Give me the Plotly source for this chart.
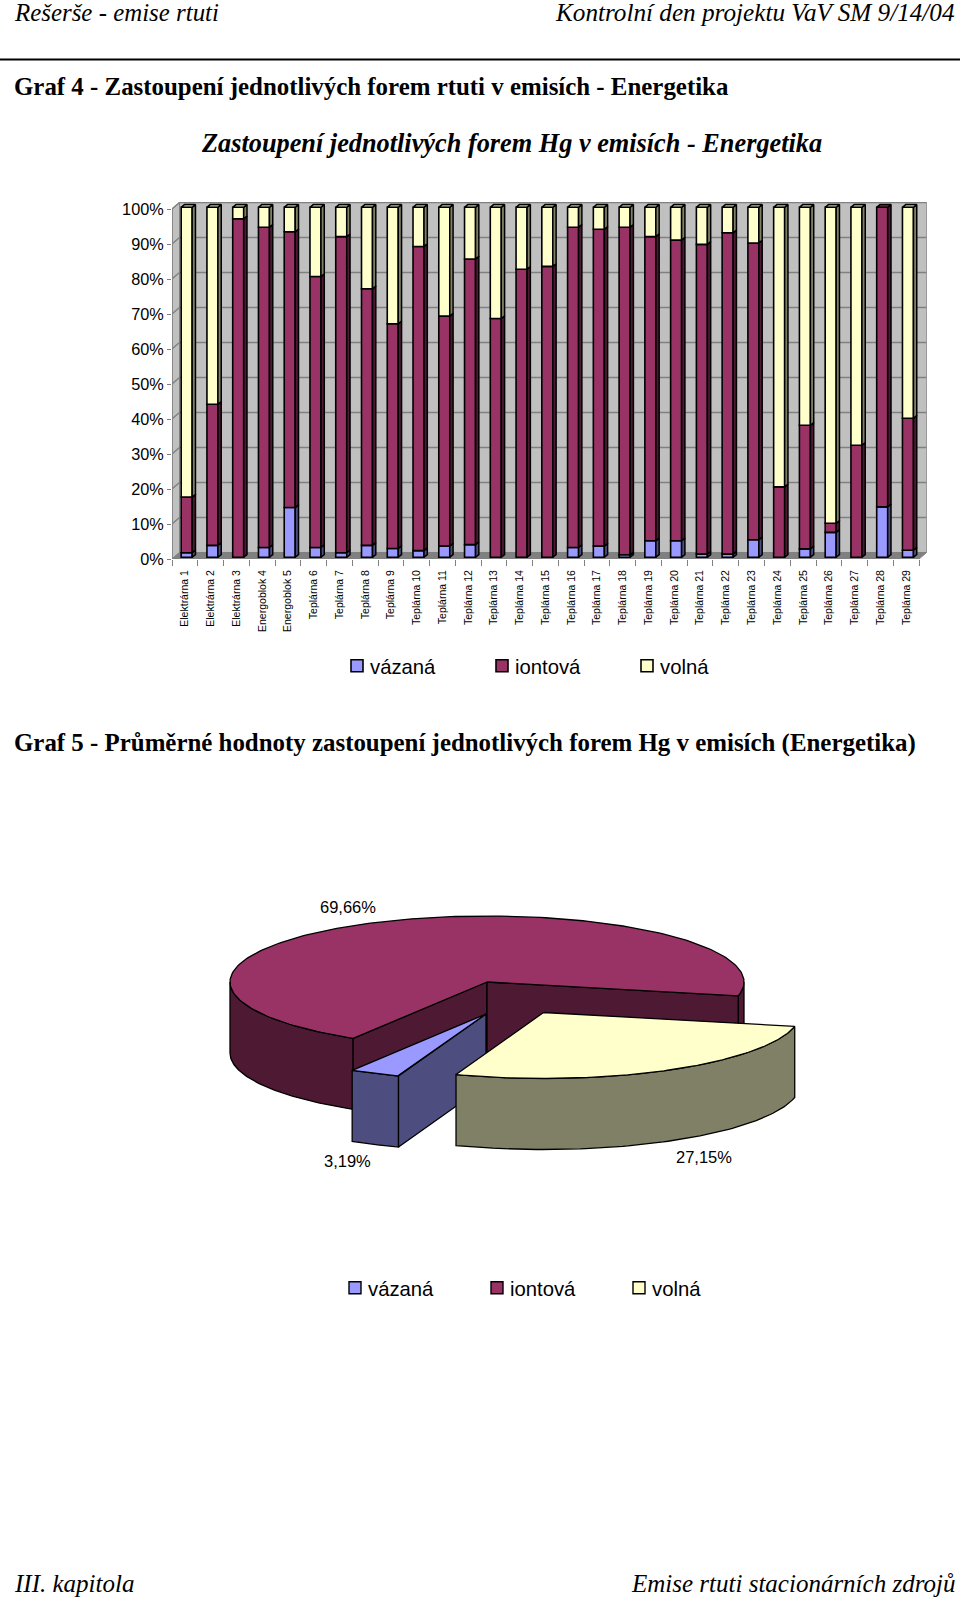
import math
import plotly.graph_objects as go

categories = ["Elektrárna 1", "Elektrárna 2", "Elektrárna 3", "Energoblok 4", "Energoblok 5"] + [
    f"Teplárna {i}" for i in range(6, 30)]
vazana = [1.3, 3.4, 0, 2.8, 14.2, 2.8, 1.3, 3.4, 2.5, 1.9, 3.2, 3.6, 0, 0, 0,
          2.8, 3.2, 0.7, 4.7, 4.7, 0.9, 0.9, 5.0, 0, 2.4, 7.1, 0, 14.4, 2.0]
iontova = [15.9, 40.3, 96.7, 91.5, 78.8, 77.4, 90.3, 73.3, 64.2, 86.9, 65.7, 81.6, 68.2, 82.3, 83.1,
           91.5, 90.5, 93.6, 86.9, 85.9, 88.5, 91.8, 84.8, 20.1, 35.3, 2.6, 32.0, 85.6, 37.7]
volna = [82.8, 56.3, 3.3, 5.7, 7.0, 19.8, 8.4, 23.3, 33.3, 11.2, 31.1, 14.8, 31.8, 17.7, 16.9,
         5.7, 6.3, 5.7, 8.4, 9.4, 10.6, 7.3, 10.2, 79.9, 62.3, 90.3, 68.0, 0, 60.3]
y_ticks = list(range(0, 101, 10))
series_names = ["vázaná", "iontová", "volná"]
pie_values = [3.19, 69.66, 27.15]
pie_labels = ["3,19%", "69,66%", "27,15%"]

C_FRONT = ["#9999FF", "#993366", "#FFFFCC"]
C_SIDE = ["#4D4D80", "#4D1933", "#808066"]
C_TOP = ["#7070C0", "#70254A", "#BFBF99"]

W, H = 960, 1597
PX_X = 25.76
PX_Y = 3.5
PLOT_L, PLOT_B = 172, 559
X0, X1, Y1 = -0.5, 28.8, 102
px = lambda v: v / W
py = lambda v: 1 - v / H

BAR_W = 11 / PX_X
BAR_SHIFT = 0.07
LIFT = 0.5
DX_B, DY_B = 3.3 / PX_X, 0.77
DX_W, DY_W = 7.5 / PX_X, 1.86

fig = go.Figure()

positions = list(range(len(categories)))
bases = [[], [], []]
for i in positions:
    acc = LIFT
    for s, arr in enumerate([vazana, iontova, volna]):
        bases[s].append(acc)
        acc += arr[i]

for s, arr in enumerate([vazana, iontova, volna]):
    fig.add_trace(go.Bar(
        x=positions, y=arr, base=bases[s], name=series_names[s], width=BAR_W,
        offset=BAR_SHIFT - BAR_W / 2, marker=dict(color=C_FRONT[s], line=dict(color="black", width=1.6)),
        legend="legend", xaxis="x", yaxis="y", hoverinfo="skip"))

for s, arr in enumerate([vazana, iontova, volna]):
    sx, sy, tx, ty = [], [], [], []
    for i in positions:
        if arr[i] <= 0:
            continue
        xl = i + BAR_SHIFT - BAR_W / 2
        xr = xl + BAR_W
        y0, y1 = bases[s][i], bases[s][i] + arr[i]
        sx += [xr, xr + DX_B, xr + DX_B, xr, xr, None]
        sy += [y0, y0 + DY_B, y1 + DY_B, y1, y0, None]
        is_top = all(o[i] <= 0 for o in [vazana, iontova, volna][s + 1:])
        if is_top:
            tx += [xl, xr, xr + DX_B, xl + DX_B, xl, None]
            ty += [y1, y1, y1 + DY_B, y1 + DY_B, y1, None]
    for xs, ys, col in ((sx, sy, C_SIDE[s]), (tx, ty, C_TOP[s])):
        if xs:
            fig.add_trace(go.Scatter(x=xs, y=ys, mode="lines", fill="toself", fillcolor=col,
                                     line=dict(color="black", width=1.5), showlegend=False,
                                     xaxis="x", yaxis="y", hoverinfo="skip"))

XE = positions[-1] + 0.5
shapes = []
def poly(pts):
    return "M" + "L".join(f"{a},{b}" for a, b in pts) + "Z"
shapes.append(dict(type="path", xref="x", yref="y", layer="below", fillcolor="#C0C0C0",
                   line=dict(color="#808080", width=1),
                   path=poly([(X0 + DX_W, DY_W), (XE + DX_W, DY_W), (XE + DX_W, 100 + DY_W), (X0 + DX_W, 100 + DY_W)])))
shapes.append(dict(type="path", xref="x", yref="y", layer="below", fillcolor="#C0C0C0",
                   line=dict(color="#808080", width=1),
                   path=poly([(X0, 0), (X0 + DX_W, DY_W), (X0 + DX_W, 100 + DY_W), (X0, 100)])))
shapes.append(dict(type="path", xref="x", yref="y", layer="below", fillcolor="#808080",
                   line=dict(color="#808080", width=1),
                   path=poly([(X0, 0), (XE, 0), (XE + DX_W, DY_W), (X0 + DX_W, DY_W)])))
for t in y_ticks[1:]:
    shapes.append(dict(type="line", xref="x", yref="y", layer="below", line=dict(color="#808080", width=1.4),
                       x0=X0, y0=t, x1=X0 + DX_W, y1=t + DY_W))
    shapes.append(dict(type="line", xref="x", yref="y", layer="below", line=dict(color="#808080", width=1.4),
                       x0=X0 + DX_W, y0=t + DY_W, x1=XE + DX_W, y1=t + DY_W))
shapes.append(dict(type="line", xref="x", yref="y", layer="below", line=dict(color="#808080", width=1.4),
                   x0=X0, y0=0, x1=X0, y1=100))
shapes.append(dict(type="line", xref="x", yref="y", layer="below", line=dict(color="#808080", width=1.4),
                   x0=X0, y0=0, x1=XE, y1=0))
# header rule
shapes.append(dict(type="line", xref="paper", yref="paper", line=dict(color="black", width=2),
                   x0=0, x1=1, y0=py(59.5), y1=py(59.5)))

# ---- exploded 3D pie
CX, CY, RX, RY, DEPTH = 487, 982, 257, 66, 71
FIRST_ANGLE = 109.9
EXPLODE = [(-1, 32), (0, 0), (56.5, 30.5)]
spans, a = [], FIRST_ANGLE
total = sum(pie_values)
for v in pie_values:
    spans.append((a, a + v / total * 360))
    a += v / total * 360

def ell(cx, cy, th):
    r = math.radians(th)
    return cx + RX * math.cos(r), cy + RY * math.sin(r)

def arc(cx, cy, a0, b0, n=80):
    return [ell(cx, cy, a0 + (b0 - a0) * k / n) for k in range(n + 1)]

def add_poly(pts, col):
    pts = list(pts) + [pts[0]]
    fig.add_trace(go.Scatter(x=[p[0] for p in pts], y=[p[1] for p in pts], mode="lines", fill="toself",
                             fillcolor=col, line=dict(color="black", width=1.3), showlegend=False,
                             xaxis="x2", yaxis="y2", hoverinfo="skip"))

def drop(pts):
    return [(p[0], p[1] + DEPTH) for p in pts]

for s in [1, 0, 2]:
    a0, b0 = spans[s]
    ox, oy = EXPLODE[s]
    cx, cy = CX + ox, CY + oy
    for k in (0, 1):
        lo, hi = max(a0, 360 * k), min(b0, 360 * k + 180)
        if lo < hi:
            top_edge = arc(cx, cy, lo, hi)
            add_poly(top_edge + drop(top_edge)[::-1], C_SIDE[s])
    apex = (cx, cy)
    for th, normal in ((a0, a0 - 90), (b0, b0 + 90)):
        if math.sin(math.radians(normal)) > 0:
            edge = [apex, ell(cx, cy, th)]
            add_poly(edge + drop(edge)[::-1], C_SIDE[s])
    add_poly([apex] + arc(cx, cy, a0, b0, 200), C_FRONT[s])

for s in range(3):
    fig.add_trace(go.Bar(x=[None], y=[None], name=series_names[s], legend="legend2",
                         marker=dict(color=C_FRONT[s], line=dict(color="black", width=1.4)),
                         xaxis="x2", yaxis="y2", hoverinfo="skip"))

SERIF = "Liberation Serif"
SANS = "Liberation Sans"
def note(text, x, y, size, family=SERIF, anchor="left", bold=False, italic=False):
    fig.add_annotation(text=f"<b>{text}</b>" if bold else text, x=px(x), y=py(y), xref="paper", yref="paper",
                       xanchor=anchor, yanchor="middle", showarrow=False,
                       font=dict(family=family, size=size, color="black", style="italic" if italic else "normal"))

note("Rešerše - emise rtuti", 12, 12, 24.9, italic=True)
note("Kontrolní den projektu VaV SM 9/14/04", 957, 12, 25.2, anchor="right", italic=True)
note("Graf 4 - Zastoupení jednotlivých forem rtuti v emisích - Energetika", 12, 86, 24.9, bold=True)
note("Zastoupení jednotlivých forem Hg v emisích - Energetika", 511, 143.5, 26.3, anchor="center", bold=True, italic=True)
note("Graf 5 - Průměrné hodnoty zastoupení jednotlivých forem Hg v emisích (Energetika)", 12, 743, 24.9, bold=True)
note("III. kapitola", 12, 1583, 25, italic=True)
note("Emise rtuti stacionárních zdrojů", 957, 1583, 25, anchor="right", italic=True)
for lab, (x, y) in zip(pie_labels, [(347, 1161), (348, 907), (703.5, 1157)]):
    note(lab, x, y, 16.5, family=SANS, anchor="center")

fig.update_layout(
    width=W, height=H, margin=dict(l=0, r=0, t=0, b=0, pad=0, autoexpand=False), autosize=False,
    paper_bgcolor="white", plot_bgcolor="rgba(0,0,0,0)", barmode="overlay", shapes=shapes,
    font=dict(family=SANS, color="black"),
    xaxis=dict(domain=[px(PLOT_L), px(PLOT_L + (X1 - X0) * PX_X)], range=[X0, X1], tickmode="array",
               tickvals=positions, ticktext=categories, tickangle=-90, ticks="", showgrid=False, zeroline=False,
               tickfont=dict(size=10.5, family=SANS), ticklabelstandoff=8, showline=False,
               minor=dict(tickmode="array", tickvals=[p - 0.5 for p in positions] + [XE], ticks="outside",
                          ticklen=6, tickcolor="#808080", tickwidth=1.2, showgrid=False)),
    yaxis=dict(domain=[py(PLOT_B), py(PLOT_B - Y1 * PX_Y)], range=[0, Y1], tickmode="array", tickvals=y_ticks,
               ticktext=[f"{t}%" for t in y_ticks], ticks="outside", ticklen=4, tickcolor="#808080", tickwidth=1.2,
               showgrid=False, zeroline=False, showline=False, tickfont=dict(size=16.3, family=SANS)),
    xaxis2=dict(domain=[0, 1], range=[0, W], visible=False, anchor="y2"),
    yaxis2=dict(domain=[0, 1], range=[H, 0], visible=False, anchor="x2"),
    legend=dict(orientation="h", x=px(330), y=py(666), xanchor="left", yanchor="middle", traceorder="normal",
                entrywidth=100, entrywidthmode="pixels", font=dict(size=20.3, family=SANS),
                bgcolor="rgba(0,0,0,0)"),
    legend2=dict(orientation="h", x=px(328), y=py(1288), xanchor="left", yanchor="middle", traceorder="normal",
                 entrywidth=97, entrywidthmode="pixels", font=dict(size=20.3, family=SANS),
                 bgcolor="rgba(0,0,0,0)"),
)

fig.write_html("out.html", config={"displayModeBar": False}, post_script=(
    "document.body.style.margin='0';document.body.style.overflow='hidden';"
    "document.querySelectorAll('.legendpoints').forEach(g=>g.setAttribute('transform','translate(7,0)'));"))
